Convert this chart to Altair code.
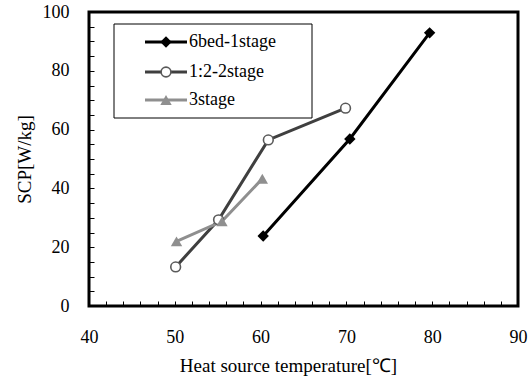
import altair as alt
import pandas as pd

# Measured specific cooling power for each cycle configuration
temp_1stage = [60.3, 70.4, 79.7]
scp_1stage = [23.8, 56.8, 92.9]
temp_2stage = [50.1, 55.1, 60.9, 69.9]
scp_2stage = [13.3, 29.3, 56.5, 67.3]
temp_3stage = [50.2, 55.5, 60.2]
scp_3stage = [22.0, 28.8, 43.3]

series_names = ["6bed-1stage", "1:2-2stage", "3stage"]
line_colors = ["#000000", "#3f3f3f", "#8f8f8f"]

x_ticks = list(range(40, 91, 2))
y_ticks = list(range(0, 101, 5))

W, H = 429, 294
X_DOM = (40, 90)
Y_DOM = (0, 100)
FONT = "Liberation Serif"


def px_to_x(px):
    return X_DOM[0] + px / W * (X_DOM[1] - X_DOM[0])


def px_to_y(py):
    return Y_DOM[1] - py / H * (Y_DOM[1] - Y_DOM[0])


rows = []
for name, ts, vs in zip(series_names,
                        [temp_1stage, temp_2stage, temp_3stage],
                        [scp_1stage, scp_2stage, scp_3stage]):
    for t, v in zip(ts, vs):
        rows.append({"series": name, "temp": t, "scp": v})
df = pd.DataFrame(rows)

# Legend entries placed inside the plot frame (upper left)
legend_rows = [30, 60, 88]
legend = pd.DataFrame({
    "series": series_names,
    "temp": [px_to_x(77)] * 3,
    "x0": [px_to_x(56)] * 3,
    "x1": [px_to_x(98)] * 3,
    "tx": [px_to_x(100)] * 3,
    "scp": [px_to_y(r) for r in legend_rows],
})
legend_box = pd.DataFrame({
    "temp": [px_to_x(25)], "temp2": [px_to_x(223)],
    "scp": [px_to_y(12)], "scp2": [px_to_y(106)],
})

x_scale = alt.Scale(domain=list(X_DOM), nice=False, zero=False)
y_scale = alt.Scale(domain=list(Y_DOM), nice=False)

x_axis = alt.Axis(
    values=x_ticks,
    labelExpr="datum.value % 10 == 0 ? datum.label : ''",
    title="Heat source temperature[℃]",
    offset=-5, tickSize=5, domain=False, grid=False,
    labelPadding=22, labelOverlap=False, labelFlush=False,
    titlePadding=10, titleX=199,
)
y_axis = alt.Axis(
    values=y_ticks,
    labelExpr="datum.value % 20 == 0 ? datum.label : ''",
    title="SCP[W/kg]",
    offset=-5, tickSize=5, domain=False, grid=False,
    labelPadding=20, labelOverlap=False, labelFlush=False,
    titlePadding=8,
)

X = alt.X("temp:Q", scale=x_scale, axis=x_axis)
Y = alt.Y("scp:Q", scale=y_scale, axis=y_axis)
color = alt.Color("series:N", scale=alt.Scale(domain=series_names, range=line_colors), legend=None)

lines = alt.Chart(df).mark_line(strokeWidth=3).encode(x=X, y=Y, color=color, order="temp:Q")


def marker_layers(src):
    """Diamond, open circle and triangle markers for the three series."""
    def pick(name):
        return alt.Chart(src).transform_filter(alt.datum.series == name)
    return [
        pick(series_names[0]).mark_point(
            shape="diamond", filled=True, color="#000000", size=130, opacity=1
        ).encode(x=X, y=Y),
        pick(series_names[1]).mark_point(
            shape="circle", filled=True, fill="#ffffff", stroke="#5a5a5a",
            strokeWidth=1.6, size=95, opacity=1
        ).encode(x=X, y=Y),
        pick(series_names[2]).mark_point(
            shape="triangle-up", filled=True, color="#8f8f8f", size=130, opacity=1
        ).encode(x=X, y=Y),
    ]


box = alt.Chart(legend_box).mark_rect(
    fill="#ffffff", stroke="#000000", strokeWidth=1
).encode(x=X, x2="temp2:Q", y=Y, y2="scp2:Q")

legend_lines = alt.Chart(legend).mark_rule(strokeWidth=3).encode(
    x=alt.X("x0:Q", scale=x_scale, axis=x_axis), x2="x1:Q", y=Y, color=color
)
legend_text = alt.Chart(legend).mark_text(
    align="left", baseline="middle", font=FONT, fontSize=18, color="#000000"
).encode(x=alt.X("tx:Q", scale=x_scale, axis=x_axis), y=Y, text="series:N")

chart = alt.layer(
    lines, *marker_layers(df),
    box, legend_lines, *marker_layers(legend), legend_text,
).properties(
    width=W, height=H,
    background="#ffffff",
    autosize=alt.AutoSizeParams(type="none"),
    padding={"left": 89, "top": 12, "right": 531 - 89 - W, "bottom": 378 - 12 - H},
).configure_view(
    stroke="#000000", strokeWidth=3
).configure_axis(
    labelFont=FONT, titleFont=FONT, labelFontSize=18, titleFontSize=19,
    labelColor="#000000", titleColor="#000000", titleFontWeight="normal",
    tickColor="#000000", tickWidth=1,
)

chart.save("out.html", embed_options={"renderer": "svg", "actions": False})
